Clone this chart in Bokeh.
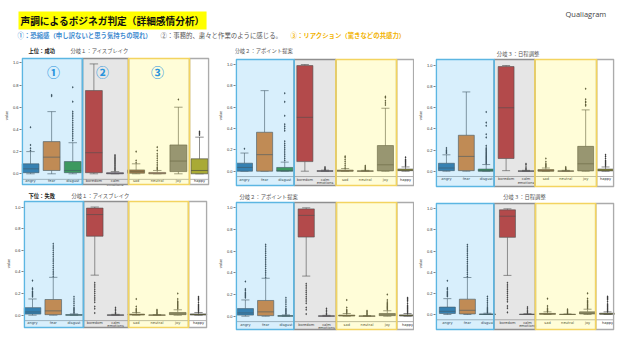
from bokeh.plotting import figure
from bokeh.models import Range1d, Label, FixedTicker, PrintfTickFormatter, ColumnDataSource
from bokeh.layouts import column, row
from bokeh.embed import file_html
from bokeh.resources import INLINE
from bokeh.core.properties import value

# ---------------- data ----------------
categories = ["angry", "fear", "disgust", "boredom", "calm", "sad", "neutral", "joy", "happy"]
box_colors = ["#3274a1", "#e1812c", "#3a923a", "#c03d3e", "#9372b2",
              "#845b53", "#d684bd", "#7f7f7f", "#a9aa35"]
y_ticks = [0.0, 0.2, 0.4, 0.6, 0.8, 1.0]
x_label = "emotions"
y_label = "value"

# 上位：成功 / 分岐１：アイスブレイク
top1_q1 = [0.01, 0.03, 0.01, 0.01, 0.0, 0.005, 0.0, 0.02, 0.0]
top1_med = [0.045, 0.15, 0.03, 0.19, 0.003, 0.02, 0.004, 0.115, 0.03]
top1_q3 = [0.09, 0.29, 0.11, 0.75, 0.01, 0.035, 0.012, 0.26, 0.135]
top1_lo = [0.0, 0.0, 0.0, 0.0, 0.0, 0.0, 0.0, 0.0, 0.0]
top1_hi = [0.2, 0.56, 0.28, 0.99, 0.02, 0.09, 0.03, 0.6, 0.33]
top1_out = [[0.21, 0.23, 0.26, 0.42], [0.70, 0.71],
            [0.30, 0.32, 0.34, 0.36, 0.38, 0.40, 0.42, 0.44, 0.46, 0.48, 0.50, 0.52, 0.54, 0.56, 0.65, 0.78],
            [], [0.03, 0.04, 0.05, 0.06, 0.07, 0.08, 0.09, 0.10, 0.11, 0.12, 0.13, 0.14, 0.15, 0.16, 0.17],
            [0.10, 0.12, 0.20], [0.04, 0.05, 0.06, 0.08, 0.10, 0.12, 0.14, 0.16, 0.18, 0.21, 0.24],
            [0.67], [0.35, 0.36, 0.37, 0.38]]

# 上位 / 分岐２：アポイント提案
top2_q1 = [0.0, 0.0, 0.0, 0.09, 0.0, 0.0, 0.0, 0.003, 0.005]
top2_med = [0.035, 0.155, 0.005, 0.505, 0.001, 0.003, 0.001, 0.06, 0.01]
top2_q3 = [0.075, 0.365, 0.035, 0.99, 0.004, 0.01, 0.003, 0.24, 0.02]
top2_lo = [0.0, 0.0, 0.0, 0.0, 0.0, 0.0, 0.0, 0.0, 0.0]
top2_hi = [0.17, 0.755, 0.085, 1.0, 0.01, 0.025, 0.008, 0.59, 0.04]
top2_out = [[0.21], [],
            [0.10, 0.12, 0.14, 0.16, 0.18, 0.20, 0.22, 0.24, 0.26, 0.28, 0.38, 0.40, 0.42, 0.44, 0.52, 0.65, 0.73],
            [], [0.015, 0.02, 0.03, 0.04], [0.03, 0.05, 0.07, 0.09, 0.11, 0.13, 0.14],
            [0.012, 0.02, 0.03, 0.04, 0.05], [0.62, 0.64, 0.66, 0.69, 0.70],
            [0.05, 0.06, 0.07, 0.08, 0.09, 0.10, 0.11, 0.13]]

# 上位 / 分岐３：日程調整
top3_q1 = [0.005, 0.005, 0.0, 0.12, 0.0, 0.0, 0.0, 0.003, 0.003]
top3_med = [0.03, 0.14, 0.005, 0.6, 0.001, 0.004, 0.001, 0.07, 0.01]
top3_q3 = [0.075, 0.34, 0.02, 0.99, 0.003, 0.015, 0.003, 0.235, 0.02]
top3_lo = [0.0, 0.0, 0.0, 0.005, 0.0, 0.0, 0.0, 0.0, 0.0]
top3_hi = [0.155, 0.75, 0.063, 1.0, 0.008, 0.03, 0.008, 0.58, 0.04]
top3_out = [[0.17, 0.18, 0.19, 0.20, 0.22], [],
            [0.07, 0.08, 0.09, 0.10, 0.11, 0.12, 0.13, 0.14, 0.15, 0.16, 0.17, 0.18, 0.19, 0.20,
             0.21, 0.22, 0.24, 0.32, 0.35, 0.43, 0.46, 0.56],
            [], [0.015, 0.025, 0.04, 0.06, 0.07], [0.04, 0.05, 0.06, 0.07, 0.09, 0.12],
            [0.015, 0.02, 0.03, 0.04], [0.62, 0.63, 0.65, 0.66, 0.68, 0.78],
            [0.05, 0.06, 0.07, 0.08, 0.09, 0.10, 0.12, 0.14, 0.155]]

# 下位：失敗 (the three lower panels show the same distribution)
low_q1 = [0.01, 0.005, 0.0, 0.73, 0.0, 0.002, 0.0, 0.005, 0.002]
low_med = [0.03, 0.04, 0.002, 0.93, 0.001, 0.005, 0.001, 0.012, 0.006]
low_q3 = [0.07, 0.145, 0.005, 0.99, 0.003, 0.01, 0.002, 0.025, 0.012]
low_lo = [0.0, 0.0, 0.0, 0.37, 0.0, 0.0, 0.0, 0.0, 0.0]
low_hi = [0.15, 0.35, 0.012, 1.0, 0.008, 0.025, 0.005, 0.05, 0.025]
low_out = [[0.17, 0.18, 0.19, 0.20, 0.21, 0.22, 0.24, 0.25, 0.32],
           [0.36, 0.38, 0.40, 0.42, 0.44, 0.46, 0.48, 0.50, 0.52, 0.54, 0.56, 0.58, 0.60, 0.62, 0.64, 0.66],
           [0.02, 0.03, 0.04, 0.05, 0.06, 0.07, 0.09, 0.11, 0.13, 0.15, 0.17],
           [0.02, 0.06, 0.08, 0.12, 0.14, 0.16, 0.18, 0.20, 0.22, 0.24, 0.26, 0.28, 0.30],
           [0.015, 0.025, 0.04, 0.055, 0.07], [0.03, 0.04, 0.05, 0.06, 0.08, 0.15],
           [0.01, 0.02, 0.03, 0.04, 0.05],
           [0.06, 0.07, 0.08, 0.09, 0.10, 0.11, 0.12, 0.13, 0.15, 0.20],
           [0.03, 0.04, 0.05, 0.06, 0.07, 0.08, 0.09, 0.10, 0.12, 0.14, 0.15, 0.16, 0.17]]

slide_title = "声調によるポジネガ判定（詳細感情分析）"
brand = "Qualiagram"
legend_texts = ["①：恐縮感（申し訳ないと思う気持ちの現れ）",
                "②：事務的、粛々と作業のように感じる。",
                "③：リアクション（驚きなどの共感力）"]
group_marks = ["①", "②", "③"]
rank_labels = ["上位：成功", "下位：失敗"]
branch_labels = ["分岐１：アイスブレイク", "分岐２：アポイント提案", "分岐３：日程調整"]

JP = "Noto Sans CJK JP"
LINE = "#424242"

# ---------------- layout helpers ----------------
def make_panel(spec, q1, med, q3, lo, hi, out, titles, marks=False):
    fx0, fx1, fy0, fy1 = spec["fig"]
    b = spec["bands"]
    c0, c8 = spec["cats"]
    v1, v0 = spec["yt"]
    s = (c8 - c0) / (len(categories) - 1)
    k = v0 - v1

    def X(px):
        return (px - c0) / s

    def Y(py):
        return (v0 - py) / k

    p = figure(width=fx1 - fx0, height=fy1 - fy0,
               x_range=Range1d(X(b[0]), X(b[4])), y_range=Range1d(Y(fy1), Y(fy0)),
               min_border_left=b[0] - fx0, min_border_right=fx1 - b[4],
               min_border_top=0, min_border_bottom=0,
               x_axis_location=None, toolbar_location=None, output_backend="svg")
    p.outline_line_color = None
    p.grid.grid_line_color = None
    ax = p.yaxis[0]
    ax.ticker = FixedTicker(ticks=y_ticks)
    ax.formatter = PrintfTickFormatter(format="%.1f")
    ax.major_label_text_font_size = "4px"
    ax.major_label_text_color = "#333333"
    ax.major_label_standoff = 1
    ax.major_tick_out = 2
    ax.major_tick_in = 0
    ax.major_tick_line_width = 0.5
    ax.minor_tick_line_color = None
    ax.axis_line_color = None
    ax.axis_label = y_label
    ax.axis_label_text_font_size = "4px"
    ax.axis_label_text_font_style = "normal"
    ax.axis_label_standoff = 1

    idx = list(range(len(categories)))
    src = ColumnDataSource(dict(
        x=idx, q1=q1, med=med, q3=q3, lo=lo, hi=hi, color=box_colors,
        left=[i - 0.4 for i in idx], right=[i + 0.4 for i in idx],
        cl=[i - 0.2 for i in idx], cr=[i + 0.2 for i in idx]))
    # matplotlib-like bottom spine
    p.segment(x0=[X(b[0]) + 0.05], y0=[-0.05], x1=[X(b[4]) - 0.05], y1=[-0.05],
              line_color="#666666", line_width=0.5)
    p.segment(x0="x", y0="q3", x1="x", y1="hi", source=src, line_color=LINE, line_width=0.6)
    p.segment(x0="x", y0="q1", x1="x", y1="lo", source=src, line_color=LINE, line_width=0.6)
    p.segment(x0="cl", y0="hi", x1="cr", y1="hi", source=src, line_color=LINE, line_width=0.6)
    p.segment(x0="cl", y0="lo", x1="cr", y1="lo", source=src, line_color=LINE, line_width=0.6)
    p.quad(left="left", right="right", bottom="q1", top="q3", source=src,
           fill_color="color", line_color=LINE, line_width=0.6)
    p.segment(x0="left", y0="med", x1="right", y1="med", source=src, line_color=LINE, line_width=0.6)
    ox = [i for i, o in enumerate(out) for _ in o]
    oy = [v for o in out for v in o]
    p.scatter(ox, oy, marker="diamond", size=2.6, fill_color="#3a3a3a", line_color=None)

    # category tick labels + x label
    ly = Y(spec["lab"])
    p.text(x=idx, y=[ly] * len(idx), text=categories, text_font=value("DejaVu Sans"),
           text_font_size="3.6px", text_color="#333333", text_align="center", text_baseline="middle")
    p.text(x=[(len(categories) - 1) / 2], y=[Y(spec["lab"] + 3.6)], text=[x_label],
           text_font=value("DejaVu Sans"), text_font_size="3.6px", text_color="#333333",
           text_align="center", text_baseline="middle")

    # group overlays (white, gray, blue, yellow)
    t, bt = spec["tb"]
    inset = 0.8 / s
    lefts = [X(b[3]), X(b[1]), X(b[0]) + inset, X(b[2])]
    rights = [X(b[4]) - inset, X(b[2]), X(b[1]), X(b[3])]
    p.quad(left=lefts, right=rights, bottom=[Y(bt)] * 4, top=[Y(t)] * 4,
           fill_color=["#ffffff", "#828282", "#46b4f0", "#fff53c"],
           fill_alpha=[0.0, 0.2, 0.21, 0.2],
           line_color=["#ababab", "#8f8f8f", "#5cb6e2", "#f3d460"], line_width=1.6)

    for (tx, ty, txt, style, color, align) in titles:
        p.add_layout(Label(x=X(tx), y=Y(ty), text=txt, text_font=JP, text_font_size="5.3px",
                           text_font_style=style, text_color=color, text_align=align,
                           text_baseline="middle"))
    if marks:
        for (mx, my), m in zip(spec["marks"], group_marks):
            p.add_layout(Label(x=X(mx), y=Y(my), text=m, text_font=JP, text_font_size="13px",
                               text_font_style="bold", text_color="#2793dc",
                               text_align="center", text_baseline="middle"))
    return p


specs = [
    dict(fig=(0, 214, 42, 188), bands=[21, 82, 128, 189, 209], tb=(58, 184), cats=(30, 199),
         yt=(62.3, 173.3), lab=180.5, marks=[(53, 71), (102, 71), (157, 71)]),
    dict(fig=(214, 414, 42, 188), bands=[234, 293, 335, 396, 414], tb=(59, 185), cats=(243, 405),
         yt=(64, 170.7), lab=179),
    dict(fig=(414, 624, 42, 188), bands=[434, 493, 534, 596, 614], tb=(59, 186), cats=(445, 605),
         yt=(65, 170.7), lab=178.5),
    dict(fig=(0, 214, 188, 338), bands=[23, 83, 128, 188, 207], tb=(201, 327), cats=(32, 198),
         yt=(206.5, 314.7), lab=322),
    dict(fig=(214, 414, 188, 338), bands=[233, 292, 335, 396, 414], tb=(202, 329), cats=(243, 407),
         yt=(207.3, 315.7), lab=324),
    dict(fig=(414, 624, 188, 338), bands=[433, 492, 534, 595, 614], tb=(203, 329), cats=(445, 607),
         yt=(208.3, 314), lab=322),
]

GRAY = "#555555"
p1 = make_panel(specs[0], top1_q1, top1_med, top1_q3, top1_lo, top1_hi, top1_out,
                [(28, 50, rank_labels[0], "bold", "#222222", "left"),
                 (70, 50, branch_labels[0], "normal", GRAY, "left")], marks=True)
p2 = make_panel(specs[1], top2_q1, top2_med, top2_q3, top2_lo, top2_hi, top2_out,
                [(233, 50, branch_labels[1], "normal", GRAY, "left")])
p3 = make_panel(specs[2], top3_q1, top3_med, top3_q3, top3_lo, top3_hi, top3_out,
                [(517, 53, branch_labels[2], "normal", GRAY, "center")])
p4 = make_panel(specs[3], low_q1, low_med, low_q3, low_lo, low_hi, low_out,
                [(28, 195, rank_labels[1], "bold", "#222222", "left"),
                 (71, 195, branch_labels[0], "normal", GRAY, "left")])
p5 = make_panel(specs[4], low_q1, low_med, low_q3, low_lo, low_hi, low_out,
                [(237, 196, branch_labels[1], "normal", GRAY, "left")])
p6 = make_panel(specs[5], low_q1, low_med, low_q3, low_lo, low_hi, low_out,
                [(523, 196, branch_labels[2], "normal", GRAY, "center")])

# header
h = figure(width=624, height=42, x_range=Range1d(0, 624), y_range=Range1d(42, 0),
           toolbar_location=None, output_backend="svg", x_axis_location=None, y_axis_location=None,
           min_border=0)
h.outline_line_color = None
h.grid.grid_line_color = None
h.add_layout(Label(x=18, y=20, text=slide_title, text_font=JP, text_font_size="9.7px",
                   text_font_style="bold", text_color="#111111", text_baseline="middle",
                   background_fill_color="#ffff00", padding=2))
h.add_layout(Label(x=565, y=13, text=brand, text_font="Open Sans", text_font_size="7.5px",
                   text_color="#444444", text_baseline="middle"))
for tx, txt, col, st in [(17, legend_texts[0], "#3f8bd0", "bold"),
                         (160, legend_texts[1], "#555555", "normal"),
                         (290, legend_texts[2], "#f2b300", "bold")]:
    h.add_layout(Label(x=tx, y=35, text=txt, text_font=JP, text_font_size="6.4px",
                       text_font_style=st, text_color=col, text_baseline="middle"))

layout = column(h, row(p1, p2, p3), row(p4, p5, p6))
open("out.html", "w").write(file_html(layout, INLINE))
